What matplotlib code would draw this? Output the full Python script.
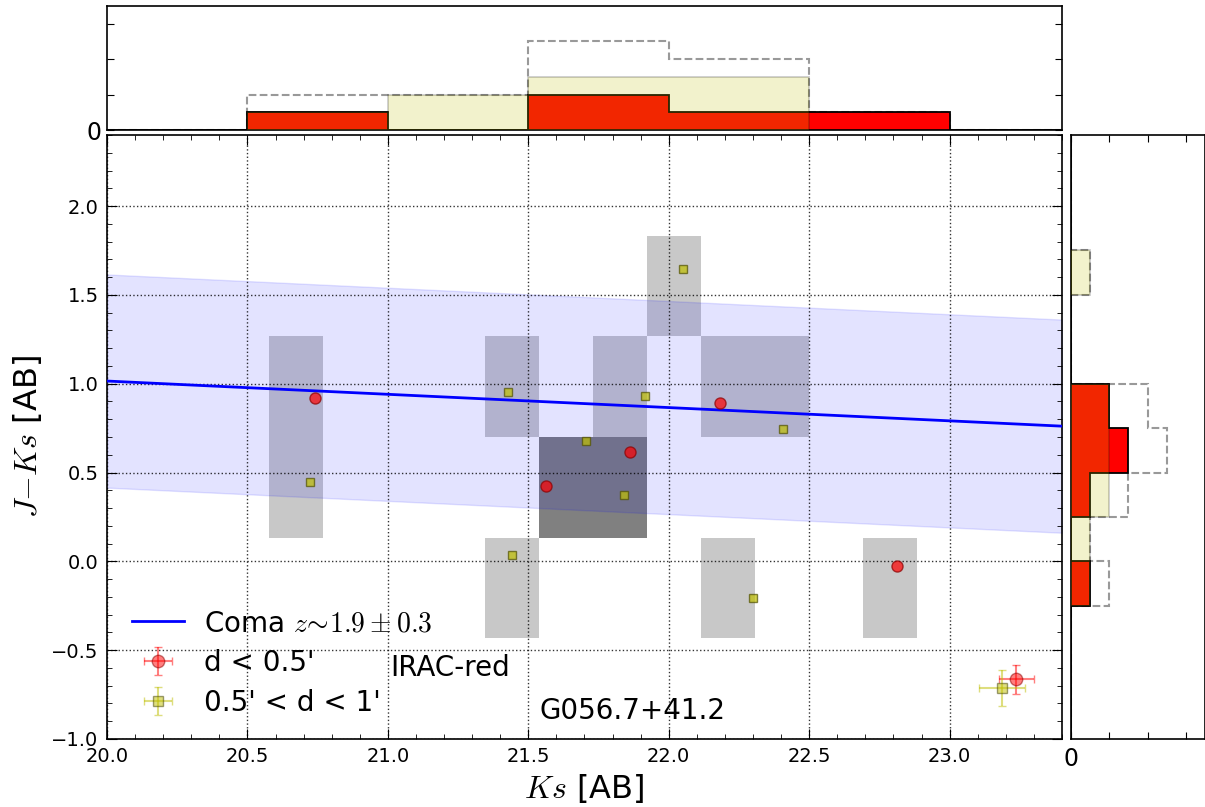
import numpy as np
import matplotlib
matplotlib.use('Agg')
import matplotlib.pyplot as plt
from matplotlib.colors import ListedColormap, BoundaryNorm
from matplotlib.ticker import MultipleLocator

plt.rcParams['mathtext.fontset'] = 'cm'
plt.rcParams['font.family'] = ['DejaVu Sans']

# cluster members, d < 0.5'
ks_in = [20.742, 21.562, 21.862, 22.183, 22.813]
jk_in = [0.921, 0.424, 0.615, 0.890, -0.028]

# cluster members, 0.5' < d < 1'
ks_out = [20.724, 21.429, 21.443, 21.706, 21.840, 21.916, 22.049, 22.300, 22.407]
jk_out = [0.448, 0.955, 0.034, 0.677, 0.375, 0.931, 1.647, -0.205, 0.744]

# typical errors (d < 0.5', 0.5' < d < 1')
typ_ks = [23.237, 23.185]
typ_jk = [-0.663, -0.712]
typ_ks_err = [0.062, 0.082]
typ_jk_err = [0.082, 0.100]

# Coma red sequence shifted to z~1.9
rs_ks = [20.0, 23.4]
rs_jk = [1.015, 0.761]
rs_width = 0.6

# marginal histograms (counts)
ks_edges = [20.0, 20.5, 21.0, 21.5, 22.0, 22.5, 23.0, 23.5]
ks_cnt_in = [0, 1, 0, 2, 1, 1, 0]
ks_cnt_out = [0, 1, 2, 3, 3, 0, 0]
ks_cnt_all = [0, 2, 2, 5, 4, 1, 0]

jk_edges = [-1.0, -0.75, -0.5, -0.25, 0.0, 0.25, 0.5, 0.75, 1.0, 1.25, 1.5, 1.75, 2.0, 2.25, 2.5]
jk_cnt_in = [0, 0, 0, 1, 0, 1, 3, 2, 0, 0, 0, 0, 0, 0]
jk_cnt_out = [0, 0, 0, 1, 1, 2, 2, 2, 0, 0, 1, 0, 0, 0]
jk_cnt_all = [0, 0, 0, 2, 1, 3, 5, 4, 0, 0, 1, 0, 0, 0]

xlim = (20.0, 23.4)
ylim = (-1.0, 2.4)
yel = (0.75, 0.75, 0.0)

fig = plt.figure(figsize=(12.05, 8.07), dpi=100)
ax = fig.add_axes([0.0888, 0.0843, 0.7925, 0.7484])
ax_top = fig.add_axes([0.0888, 0.8389, 0.7925, 0.1537])
ax_right = fig.add_axes([0.8888, 0.0843, 0.1112, 0.7484])

# density cells from all members
xe = xlim[0] + (2.5 / 13) * np.arange(19)
ye = ylim[0] + ((ylim[1] - ylim[0]) / 6) * np.arange(7)
H, _, _ = np.histogram2d(ks_in + ks_out, jk_in + jk_out, bins=[xe, ye])
H = np.ma.masked_equal(H.T, 0)
ax.pcolormesh(xe, ye, H, cmap=ListedColormap(['#c8c8c8', '#808080']),
              norm=BoundaryNorm([0.5, 1.5, 2.5], 2), zorder=1)

xx = np.array(rs_ks)
yy = np.array(rs_jk)
ax.fill_between(xx, yy - rs_width, yy + rs_width, color='blue', alpha=0.11, lw=1, zorder=2)
ax.plot(xx, yy, color='blue', lw=2, zorder=3, label=r'Coma $z\!\sim\!1.9\pm0.3$')

ax.plot(ks_in, jk_in, 'o', ms=8, mfc='red', mec='darkred', alpha=0.7, zorder=5)
ax.plot(ks_out, jk_out, 's', ms=6, mfc=yel, mec='#505000', alpha=0.7, zorder=5)

ax.errorbar(typ_ks[0], typ_jk[0], xerr=typ_ks_err[0], yerr=typ_jk_err[0], fmt='o', ms=9,
            color='red', mec='darkred', ecolor='red', capsize=3, alpha=0.5, zorder=5,
            label="d < 0.5'")
ax.errorbar(typ_ks[1], typ_jk[1], xerr=typ_ks_err[1], yerr=typ_jk_err[1], fmt='s', ms=7,
            color=yel, mec='#404000', ecolor=yel, capsize=3, alpha=0.5, zorder=5,
            label="0.5' < d < 1'")

ax.set_xlim(xlim)
ax.set_ylim(ylim)
ax.xaxis.set_major_locator(MultipleLocator(0.5))
ax.xaxis.set_minor_locator(MultipleLocator(0.1))
ax.yaxis.set_major_locator(MultipleLocator(0.5))
ax.yaxis.set_minor_locator(MultipleLocator(0.1))
ax.set_xticks([20.0, 20.5, 21.0, 21.5, 22.0, 22.5, 23.0])
ax.tick_params(which='both', direction='in', top=True, right=True, labelsize=14)
ax.tick_params(which='major', length=7, pad=6)
ax.tick_params(which='minor', length=3.5)
ax.grid(True, ls=':', color='k', lw=1, alpha=0.8)
ax.set_axisbelow(False)
ax.set_xlabel('$Ks$ [AB]', fontsize=23, labelpad=4)
ax.set_ylabel('$J{-}Ks$ [AB]', fontsize=23, labelpad=5)

ax.legend(loc='lower left', bbox_to_anchor=(0.006, 0.005), frameon=False, fontsize=20,
          numpoints=1, handlelength=1.85, handletextpad=0.75, labelspacing=0.42,
          borderaxespad=0.3)
ax.text(0.359, 0.117, 'IRAC-red', transform=ax.transAxes, fontsize=20,
        ha='center', va='center')
ax.text(0.550, 0.046, 'G056.7+41.2', transform=ax.transAxes, fontsize=20,
        ha='center', va='center')

# top histogram in Ks
ax_top.stairs(ks_cnt_all, ks_edges, fill=False, color='gray', ls='--', lw=1.5, alpha=0.8, zorder=1)
ax_top.stairs(ks_cnt_in, ks_edges, fill=True, facecolor='red', edgecolor='k', lw=1.3, zorder=2)
ax_top.stairs(ks_cnt_out, ks_edges, fill=True, facecolor=yel, edgecolor='k', lw=1.3,
              alpha=0.2, zorder=3)
ax_top.set_xlim(xlim)
ax_top.set_ylim(0, 7)
ax_top.set_xticks([])
ax_top.set_yticks([0, 2, 4, 6])
ax_top.set_yticklabels(['0', '', '', ''])
ax_top.tick_params(direction='in', right=True, labelsize=17, length=5, pad=4)

# right histogram in J-Ks
ax_right.stairs(jk_cnt_all, jk_edges, orientation='horizontal', fill=False,
                color='gray', ls='--', lw=1.5, alpha=0.8, zorder=1)
ax_right.stairs(jk_cnt_in, jk_edges, orientation='horizontal', fill=True,
                facecolor='red', edgecolor='k', lw=1.3, zorder=2)
ax_right.stairs(jk_cnt_out, jk_edges, orientation='horizontal', fill=True,
                facecolor=yel, edgecolor='k', lw=1.3, alpha=0.2, zorder=3)
ax_right.set_ylim(ylim)
ax_right.set_xlim(0, 7)
ax_right.set_yticks([])
ax_right.set_xticks([0, 2, 4, 6])
ax_right.set_xticklabels(['0', '', '', ''])
ax_right.tick_params(direction='in', top=True, labelsize=17, length=5, pad=6)

for a in (ax, ax_top, ax_right):
    for s in a.spines.values():
        s.set_linewidth(1.2)

fig.savefig('out.png', dpi=100)
